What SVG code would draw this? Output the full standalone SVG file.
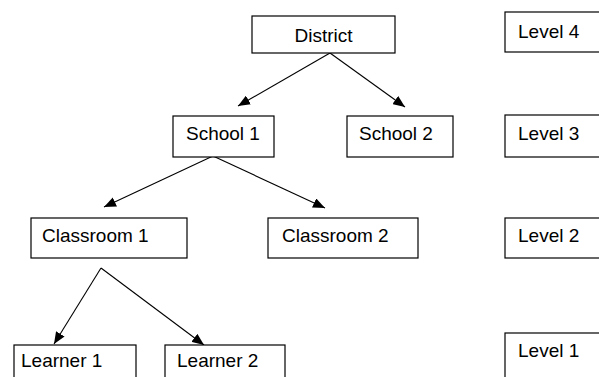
<svg xmlns="http://www.w3.org/2000/svg" width="599" height="377" viewBox="0 0 599 377">
<style>
.box{fill:#fff;stroke:#000;stroke-width:1.2}
.t{font-family:"Liberation Sans",Arial,sans-serif;font-size:19px;fill:#000}
.c{stroke:#000;stroke-width:1.1;fill:none;marker-end:url(#ah)}
</style>
<defs>
<marker id="ah" viewBox="0 0 12 10" refX="12" refY="5" markerWidth="12" markerHeight="10" markerUnits="userSpaceOnUse" orient="auto">
<path d="M0,0 L12,5 L0,10 Z" fill="#000"/>
</marker>
</defs>
<rect x="0" y="0" width="599" height="377" fill="#fff"/>
<g id="connectors">
<line class="c" x1="330" y1="53" x2="238" y2="106"/>
<line class="c" x1="330" y1="53" x2="405" y2="107"/>
<line class="c" x1="213" y1="156" x2="104" y2="207"/>
<line class="c" x1="213" y1="156" x2="325" y2="208"/>
<line class="c" x1="101" y1="268" x2="54" y2="344"/>
<line class="c" x1="101" y1="268" x2="204" y2="345"/>
</g>
<g id="district"><rect class="box" x="252" y="16" width="143" height="37"/><text class="t" x="323.5" y="41.5" text-anchor="middle">District</text></g>
<g id="school1"><rect class="box" x="173" y="116" width="101" height="41"/><text class="t" x="186" y="140">School 1</text></g>
<g id="school2"><rect class="box" x="347" y="116" width="106" height="41"/><text class="t" x="359" y="140">School 2</text></g>
<g id="classroom1"><rect class="box" x="31" y="218" width="156" height="40"/><text class="t" x="42" y="242">Classroom 1</text></g>
<g id="classroom2"><rect class="box" x="268" y="218" width="150" height="40"/><text class="t" x="282" y="242">Classroom 2</text></g>
<g id="learner1"><rect class="box" x="14" y="345" width="122" height="40"/><text class="t" x="21" y="367">Learner 1</text></g>
<g id="learner2"><rect class="box" x="165" y="345" width="120" height="40"/><text class="t" x="177" y="367">Learner 2</text></g>
<g id="level4"><rect class="box" x="505" y="12" width="100" height="40"/><text class="t" x="518" y="38">Level 4</text></g>
<g id="level3"><rect class="box" x="505" y="115" width="100" height="42"/><text class="t" x="518" y="140">Level 3</text></g>
<g id="level2"><rect class="box" x="505" y="218" width="100" height="40"/><text class="t" x="518" y="242">Level 2</text></g>
<g id="level1"><rect class="box" x="505" y="333" width="100" height="50"/><text class="t" x="518" y="357">Level 1</text></g>
</svg>
